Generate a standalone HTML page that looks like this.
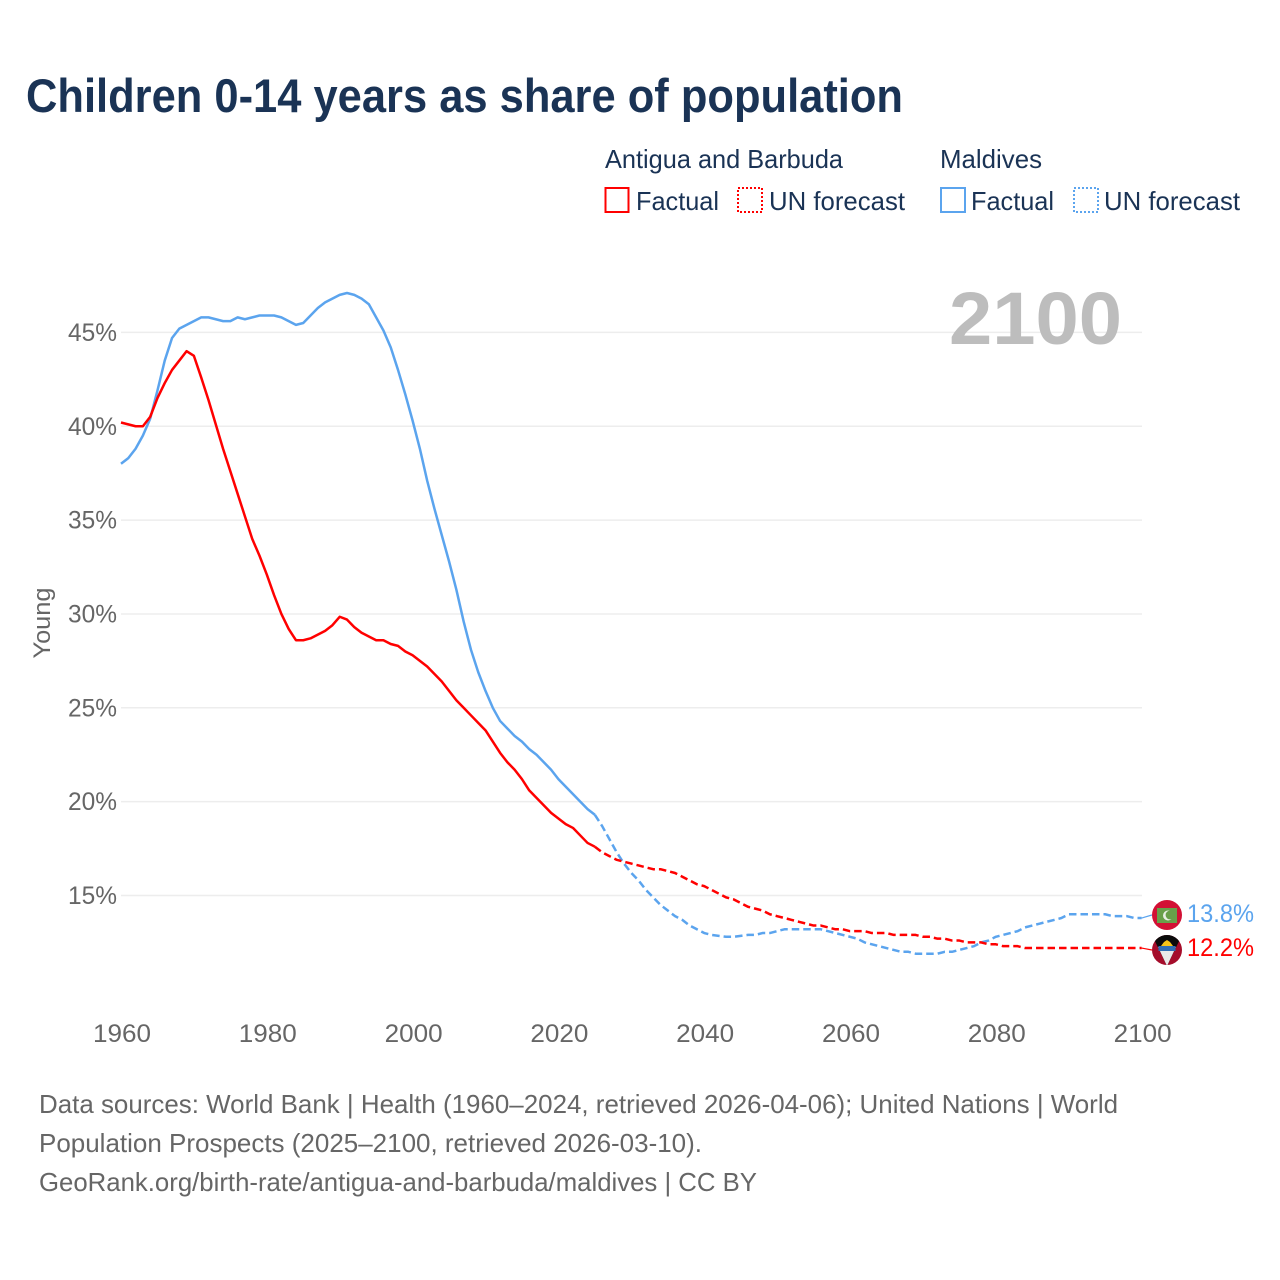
<!DOCTYPE html>
<html lang="en">
<head>
<meta charset="utf-8">
<title>Children 0-14 years as share of population</title>
<style>
html,body{margin:0;padding:0;background:#fff;width:1280px;height:1280px;overflow:hidden}
svg{display:block;font-family:"Liberation Sans",Arial,sans-serif}
</style>
</head>
<body>
<svg id="chart" xmlns="http://www.w3.org/2000/svg" width="1280" height="1280" viewBox="0 0 1280 1280">
  <rect width="1280" height="1280" fill="#fff"/>
  <text x="26" y="112" font-size="47" font-weight="700" fill="#1a3355" textLength="877" lengthAdjust="spacingAndGlyphs">Children 0-14 years as share of population</text>

  <g font-size="26" fill="#1a3355">
    <text x="605" y="168" textLength="238" lengthAdjust="spacingAndGlyphs">Antigua and Barbuda</text>
    <text x="940" y="168" textLength="102" lengthAdjust="spacingAndGlyphs">Maldives</text>
    <rect x="605.5" y="188" width="23" height="24" fill="none" stroke="#ff0000" stroke-width="2"/>
    <text x="636" y="210" textLength="83" lengthAdjust="spacingAndGlyphs">Factual</text>
    <rect x="738" y="188" width="24" height="24" fill="none" stroke="#ff0000" stroke-width="2" stroke-dasharray="2 2"/>
    <text x="769" y="210" textLength="136" lengthAdjust="spacingAndGlyphs">UN forecast</text>
    <rect x="941" y="188" width="24" height="24" fill="none" stroke="#5ba4ee" stroke-width="2"/>
    <text x="971" y="210" textLength="83" lengthAdjust="spacingAndGlyphs">Factual</text>
    <rect x="1074" y="188" width="24" height="24" fill="none" stroke="#5ba4ee" stroke-width="2" stroke-dasharray="2 2"/>
    <text x="1104" y="210" textLength="136" lengthAdjust="spacingAndGlyphs">UN forecast</text>
  </g>

  <g id="grid"></g>
  <g id="yticks" font-size="25" fill="#666"></g>
  <g id="xticks" font-size="25" fill="#666"></g>
  <text transform="translate(50 623) rotate(-90)" text-anchor="middle" font-size="24" fill="#666" textLength="71" lengthAdjust="spacingAndGlyphs">Young</text>
  <text x="949" y="344" font-size="74" font-weight="700" fill="#bdbdbd" textLength="173" lengthAdjust="spacingAndGlyphs">2100</text>

  <g id="series"></g>

  <g>
    <circle cx="1167" cy="915" r="15" fill="#d21034"/>
    <rect x="1157" y="908" width="20" height="15" fill="#689f4a"/>
    <circle cx="1168" cy="915.5" r="5" fill="#e8efe4"/>
    <circle cx="1170" cy="915" r="4.4" fill="#689f4a"/>
  </g>
  <g>
    <clipPath id="flagclip"><circle cx="1167" cy="950" r="15"/></clipPath>
    <g clip-path="url(#flagclip)">
      <rect x="1150" y="933" width="34" height="34" fill="#a50d2b"/>
      <polygon points="1152,935 1182,935 1167,966" fill="#0b0b0b"/>
      <polygon points="1158,947 1176,947 1167,966" fill="#e9e9e9"/>
      <rect x="1158.500" y="946" width="17" height="5" fill="#2f6fb5"/>
      <polygon points="1161,946 1164,942 1167,940 1170,942 1173,946" fill="#f5c518"/>
    </g>
  </g>
  <text id="label-maldives" x="1187" y="922" font-size="25" fill="#5ba4ee" textLength="67" lengthAdjust="spacingAndGlyphs">13.8%</text>
  <text id="label-antigua" x="1187" y="956" font-size="25" fill="#ff0000" textLength="67" lengthAdjust="spacingAndGlyphs">12.2%</text>

  <g font-size="26" fill="#666">
    <text x="39" y="1113" textLength="1079" lengthAdjust="spacingAndGlyphs">Data sources: World Bank | Health (1960–2024, retrieved 2026-04-06); United Nations | World</text>
    <text x="39" y="1152" textLength="663" lengthAdjust="spacingAndGlyphs">Population Prospects (2025–2100, retrieved 2026-03-10).</text>
    <text x="39" y="1191" textLength="718" lengthAdjust="spacingAndGlyphs">GeoRank.org/birth-rate/antigua-and-barbuda/maldives | CC BY</text>
  </g>
</svg>
<script>
const factualStartYear = 1960;
const forecastStartYear = 2025;
const yTickValues = [15, 20, 25, 30, 35, 40, 45];
const yTickLabels = ["15%", "20%", "25%", "30%", "35%", "40%", "45%"];
const xTickValues = [1960, 1980, 2000, 2020, 2040, 2060, 2080, 2100];
const xTickLabels = ["1960", "1980", "2000", "2020", "2040", "2060", "2080", "2100"];

const antiguaFactual = [
  40.2, 40.1, 40.0, 40.0, 40.5, 41.5, 42.3, 43.0, 43.5, 44.0,
  43.75, 42.6, 41.4, 40.1, 38.8, 37.6, 36.4, 35.2, 34.0, 33.1,
  32.1, 31.0, 30.0, 29.2, 28.6, 28.6, 28.7, 28.9, 29.1, 29.4,
  29.85, 29.7, 29.3, 29.0, 28.8, 28.6, 28.6, 28.4, 28.3, 28.0,
  27.8, 27.5, 27.2, 26.8, 26.4, 25.9, 25.4, 25.0, 24.6, 24.2,
  23.8, 23.2, 22.6, 22.1, 21.7, 21.2, 20.6, 20.2, 19.8, 19.4,
  19.1, 18.8, 18.6, 18.2, 17.8, 17.6
];
const antiguaForecast = [
  17.6, 17.3, 17.1, 16.9, 16.8, 16.7, 16.6, 16.5, 16.4, 16.4,
  16.3, 16.2, 16.0, 15.8, 15.6, 15.5, 15.3, 15.1, 14.9, 14.8,
  14.6, 14.4, 14.3, 14.2, 14.0, 13.9, 13.8, 13.7, 13.6, 13.5,
  13.4, 13.4, 13.3, 13.2, 13.2, 13.1, 13.1, 13.1, 13.0, 13.0,
  13.0, 12.9, 12.9, 12.9, 12.9, 12.8, 12.8, 12.7, 12.7, 12.6,
  12.6, 12.5, 12.5, 12.5, 12.4, 12.4, 12.3, 12.3, 12.3, 12.2,
  12.2, 12.2, 12.2, 12.2, 12.2, 12.2, 12.2, 12.2, 12.2, 12.2,
  12.2, 12.2, 12.2, 12.2, 12.2, 12.2
];
const maldivesFactual = [
  38.0, 38.3, 38.8, 39.5, 40.4, 41.9, 43.5, 44.7, 45.2, 45.4,
  45.6, 45.8, 45.8, 45.7, 45.6, 45.6, 45.8, 45.7, 45.8, 45.9,
  45.9, 45.9, 45.8, 45.6, 45.4, 45.5, 45.9, 46.3, 46.6, 46.8,
  47.0, 47.1, 47.0, 46.8, 46.5, 45.8, 45.1, 44.2, 43.0, 41.7,
  40.3, 38.8, 37.1, 35.6, 34.2, 32.8, 31.3, 29.6, 28.1, 26.9,
  25.9, 25.0, 24.3, 23.9, 23.5, 23.2, 22.8, 22.5, 22.1, 21.7,
  21.2, 20.8, 20.4, 20.0, 19.6, 19.3
];
const maldivesForecast = [
  19.3, 18.7, 18.0, 17.3, 16.7, 16.2, 15.8, 15.3, 14.9, 14.5,
  14.2, 13.9, 13.7, 13.4, 13.2, 13.0, 12.9, 12.85, 12.8, 12.8,
  12.85, 12.9, 12.9, 13.0, 13.0, 13.1, 13.2, 13.2, 13.2, 13.2,
  13.2, 13.2, 13.1, 13.0, 12.9, 12.8, 12.7, 12.5, 12.4, 12.3,
  12.2, 12.1, 12.0, 12.0, 11.9, 11.9, 11.9, 11.9, 12.0, 12.0,
  12.1, 12.2, 12.3, 12.5, 12.6, 12.8, 12.9, 13.0, 13.1, 13.3,
  13.4, 13.5, 13.6, 13.7, 13.8, 14.0, 14.0, 14.0, 14.0, 14.0,
  14.0, 13.9, 13.9, 13.9, 13.8, 13.8
];

const SVG_NS = "http://www.w3.org/2000/svg";
const xScale = function (year) { return 121 + (year - 1960) * 7.29; };
const yScale = function (v) { return 895.5 - (v - 15) * 18.77; };

const gridGroup = document.getElementById("grid");
const yTickGroup = document.getElementById("yticks");
const xTickGroup = document.getElementById("xticks");
const seriesGroup = document.getElementById("series");

yTickValues.forEach(function (v, i) {
  const line = document.createElementNS(SVG_NS, "line");
  
  
  line.setAttribute("x1", 121);
  line.setAttribute("x2", 1142);
  line.setAttribute("y1", yScale(v));
  line.setAttribute("y2", yScale(v));
  line.setAttribute("stroke", "#ededed");
  line.setAttribute("stroke-width", 1.5);
  gridGroup.appendChild(line);

  const label = document.createElementNS(SVG_NS, "text");
  
  
  label.setAttribute("x", 68);
  label.setAttribute("y", yScale(v) + 8.5);
  label.setAttribute("textLength", 49);
  label.setAttribute("lengthAdjust", "spacingAndGlyphs");
  label.textContent = yTickLabels[i];
  yTickGroup.appendChild(label);
});

xTickValues.forEach(function (year, i) {
  const label = document.createElementNS(SVG_NS, "text");
  
  
  label.setAttribute("x", xScale(year) - 28);
  label.setAttribute("y", 1042);
  label.setAttribute("textLength", 58);
  label.setAttribute("lengthAdjust", "spacingAndGlyphs");
  label.textContent = xTickLabels[i];
  xTickGroup.appendChild(label);
});

function pathFrom(values, startYear) {
  return values.map(function (v, i) {
    return (i ? "L" : "M") + xScale(startYear + i).toFixed(2) + " " + yScale(v).toFixed(2);
  }).join(" ");
}

function drawSeries(name, values, startYear, color, dashed) {
  const path = document.createElementNS(SVG_NS, "path");
  
  
  path.setAttribute("d", pathFrom(values, startYear));
  path.setAttribute("fill", "none");
  path.setAttribute("stroke", color);
  path.setAttribute("stroke-width", 2.5);
  path.setAttribute("stroke-linejoin", "round");
  if (dashed) path.setAttribute("stroke-dasharray", "7.5 4");
  seriesGroup.appendChild(path);
}

function drawConnector(name, value, flagY, color) {
  const line = document.createElementNS(SVG_NS, "line");
  
  
  line.setAttribute("x1", xScale(2100));
  line.setAttribute("y1", yScale(value));
  line.setAttribute("x2", 1152);
  line.setAttribute("y2", flagY);
  line.setAttribute("stroke", color);
  line.setAttribute("stroke-width", 1.2);
  seriesGroup.appendChild(line);
}

drawSeries("line-maldives-factual", maldivesFactual, factualStartYear, "#5ba4ee", false);
drawSeries("line-maldives-forecast", maldivesForecast, forecastStartYear, "#5ba4ee", true);
drawSeries("line-antigua-factual", antiguaFactual, factualStartYear, "#ff0000", false);
drawSeries("line-antigua-forecast", antiguaForecast, forecastStartYear, "#ff0000", true);
drawConnector("connector-maldives", maldivesForecast[maldivesForecast.length - 1], 915, "#5ba4ee");
drawConnector("connector-antigua", antiguaForecast[antiguaForecast.length - 1], 950, "#ff0000");
</script>
</body>
</html>
